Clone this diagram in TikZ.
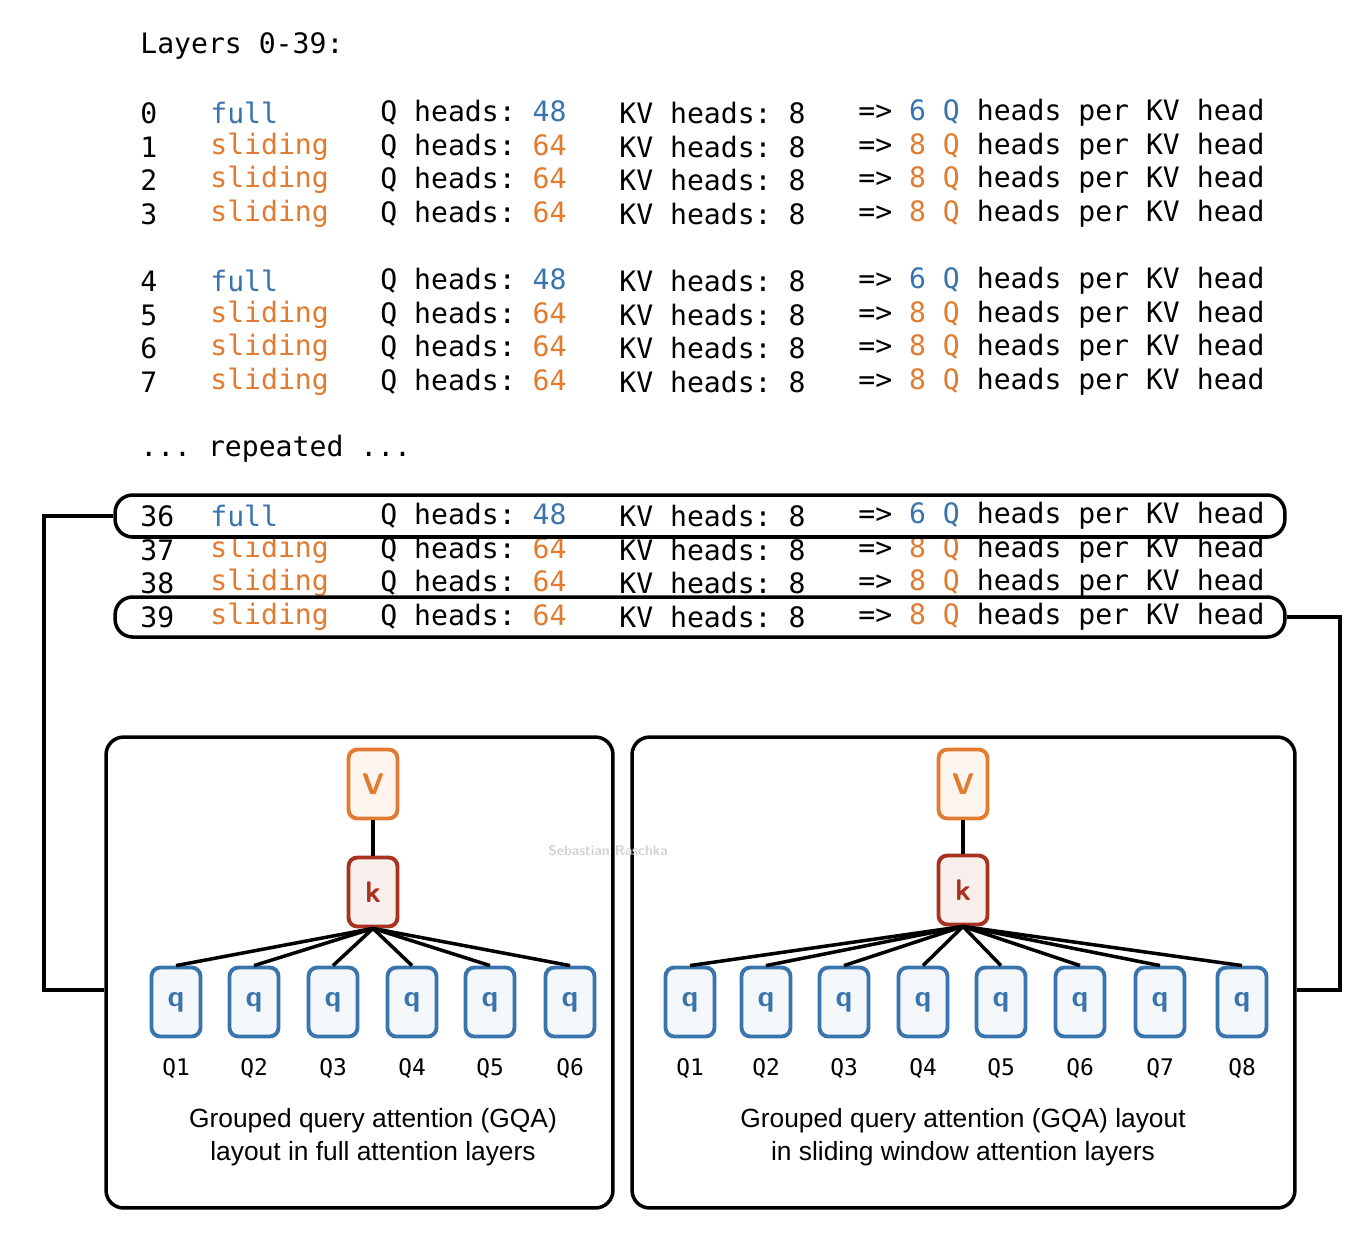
\documentclass[tikz,border=0pt]{standalone}
\usepackage{fontspec}
\setmainfont{Liberation Sans}
\setmonofont{DejaVu Sans Mono}
\usetikzlibrary{positioning}
\definecolor{fullc}{HTML}{3A74AD}
\definecolor{slidec}{HTML}{E07B30}
\definecolor{keyc}{HTML}{A8321F}

% one row of the layer listing
\newcommand{\layerrow}[6]{%
  \node[txt] (n#2) at (140,#1) {#2};
  \node[txt,text=#4] (t#2) at (210,#1) {#3};
  \node[txt] (h#2) at (380,#1) {Q heads: \textcolor{#4}{#5}};
  \node[txt] (kv#2) at (619,#1) {KV heads: 8};
  \node[txt] (r#2) at (858,#1) {=> \textcolor{#4}{#6 Q} heads per KV head};
}

\begin{document}
\begin{tikzpicture}[x=0.02cm,y=-0.02cm,
	txt/.style={anchor=west, inner sep=0pt, font=\ttfamily\fontsize{16}{18}\selectfont},
	panel/.style={draw, line width=2pt, rounded corners=10pt},
	hl/.style={draw, line width=2pt, rounded corners=10pt},
	qn/.style={draw=fullc, fill=fullc!6, text=fullc, line width=2.2pt, rounded corners=5pt, minimum width=0.98cm, minimum height=1.38cm, font=\sffamily\bfseries\fontsize{17}{20}\selectfont},
	kn/.style={qn, draw=keyc, fill=keyc!8, text=keyc},
	vn/.style={qn, draw=slidec, fill=slidec!8, text=slidec},
	lab/.style={font=\ttfamily\fontsize{13}{15}\selectfont},
	caption/.style={align=center, font=\fontsize{15}{19}\selectfont},
	link/.style={line width=2pt}]
    \useasboundingbox (0,0) rectangle (1362,1248);

    \node[txt] (title) at (140,46) {Layers 0-39:};
    \layerrow{113}{0}{full}{fullc}{48}{6}
    \layerrow{147}{1}{sliding}{slidec}{64}{8}
    \layerrow{180}{2}{sliding}{slidec}{64}{8}
    \layerrow{214}{3}{sliding}{slidec}{64}{8}
    \layerrow{281}{4}{full}{fullc}{48}{6}
    \layerrow{315}{5}{sliding}{slidec}{64}{8}
    \layerrow{348}{6}{sliding}{slidec}{64}{8}
    \layerrow{382}{7}{sliding}{slidec}{64}{8}
    \node[txt] (rep) at (140,449) {... repeated ...};
    \layerrow{516}{36}{full}{fullc}{48}{6}
    \layerrow{550}{37}{sliding}{slidec}{64}{8}
    \layerrow{583}{38}{sliding}{slidec}{64}{8}
    \layerrow{617}{39}{sliding}{slidec}{64}{8}

    % highlighted layers
    \node[hl, minimum width=23.4cm, minimum height=0.84cm] (box36) at (700,516) {};
    \node[hl, minimum width=23.4cm, minimum height=0.8cm] (box39) at (700,617) {};

    % panels
    \node[panel, minimum width=10.14cm, minimum height=9.42cm] (left) at (359.5,972.5) {};
    \node[panel, minimum width=13.26cm, minimum height=9.42cm] (right) at (963.5,972.5) {};

    \node[text=gray!35, font=\sffamily\bfseries\fontsize{8}{9}\selectfont] (mark) at (608,851) {Sebastian Raschka};

    % full attention layout
    \node[vn] (lv) at (373,784) {V};
    \node[kn] (lk) at (373,892) {k};
    \draw[link] (lv) -- (lk);
    \foreach \x [count=\i] in {176,254,333,412,490,570} {
        \node[qn] (lq\i) at (\x,1002) {q};
        \node[lab] (lql\i) at (\x,1069) {Q\i};
        \draw[link] (lk.south) -- (lq\i.north);
    }
    \node[caption] (lcap) at (373,1137) {Grouped query attention (GQA)\\layout in full attention layers};

    % sliding window layout
    \node[vn] (rv) at (963,784) {V};
    \node[kn] (rk) at (963,890) {k};
    \draw[link] (rv) -- (rk);
    \foreach \x [count=\i] in {690,766,844,923,1001,1080,1160,1242} {
        \node[qn] (rq\i) at (\x,1002) {q};
        \node[lab] (rql\i) at (\x,1069) {Q\i};
        \draw[link] (rk.south) -- (rq\i.north);
    }
    \node[caption] (rcap) at (963,1137) {Grouped query attention (GQA) layout\\in sliding window attention layers};

    % links to panels
    \draw[link] (box36.west) -| (44,990) -- (left.west |- 0,990);
    \draw[link] (box39.east) -| (1340,990) -- (right.east |- 0,990);
\end{tikzpicture}
\end{document}
